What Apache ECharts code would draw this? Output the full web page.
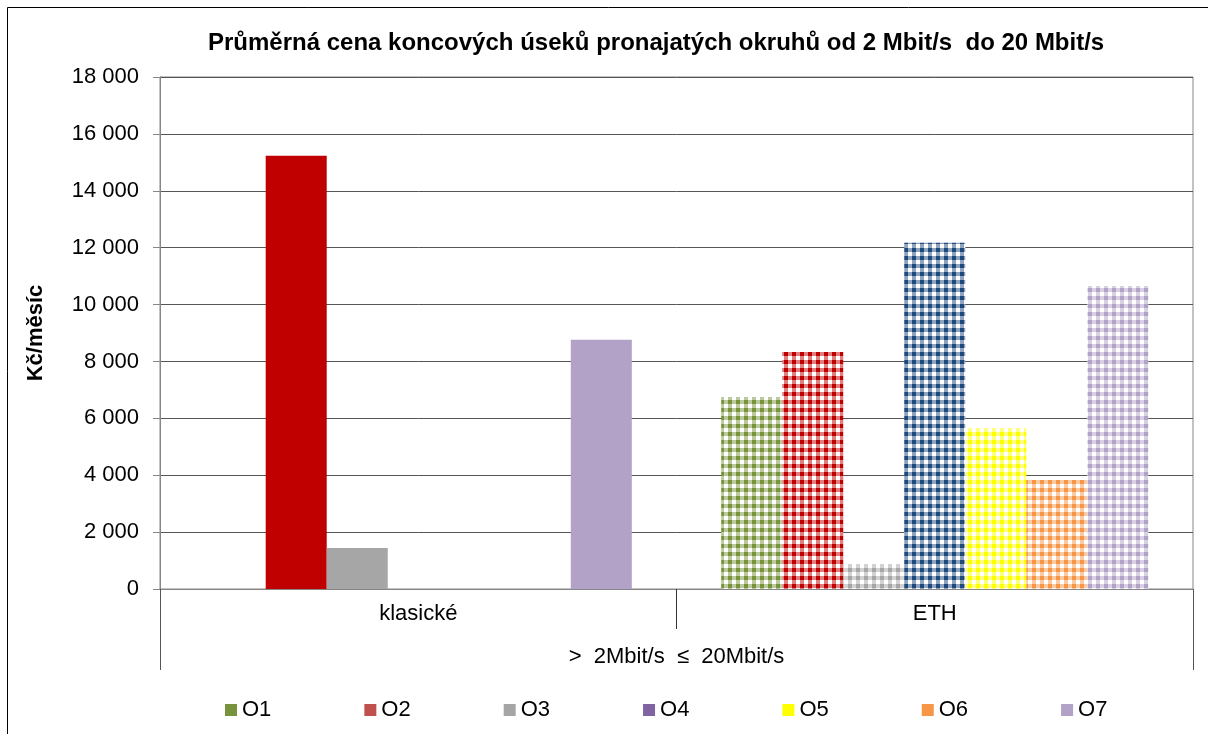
<!DOCTYPE html>
<html>
<head>
<meta charset="utf-8">
<title>Průměrná cena koncových úseků</title>
<script src="https://cdn.jsdelivr.net/npm/echarts@6/dist/echarts.min.js"></script>
<style>
  html, body { margin: 0; padding: 0; background: #fff; }
  #chart { width: 1208px; height: 734px; }
</style>
</head>
<body>
<div id="chart"></div>
<script>
// data
const categories = ['klasické', 'ETH']
const groupLabel = ['>  2Mbit/s  ≤  20Mbit/s']
const operators = ['O1', 'O2', 'O3', 'O4', 'O5', 'O6', 'O7']
const klasicke = [0, 15230, 1440, 0, 0, 0, 8760]
const eth = [6750, 8330, 880, 12170, 5660, 3830, 10650]

// colours
const legendColors = ['#77933C', '#C0504D', '#A5A5A5', '#8064A2', '#FFFF00', '#F79646', '#B3A2C7']
const solidColors = ['#77933C', '#C00000', '#A6A6A6', '#8064A2', '#FFFF00', '#F79646', '#B3A2C7']
const patternColors = ['#77933C', '#C00000', '#A6A6A6', '#1F497D', '#FFFF00', '#F79646', '#B3A2C7']

const FONT = 'Arial, "Liberation Sans", sans-serif'

// gingham-like fill used by the ETH bars
function makePattern(color) {
  const c = document.createElement('canvas')
  c.width = 8
  c.height = 8
  const ctx = c.getContext('2d')
  ctx.fillStyle = '#fff'
  ctx.fillRect(0, 0, 8, 8)
  ctx.globalAlpha = 0.5
  ctx.fillStyle = color
  ctx.fillRect(0, 0, 4, 8)
  ctx.fillRect(4, 0, 4, 4)
  ctx.globalAlpha = 1
  ctx.fillRect(0, 0, 4, 4)
  return { image: c, repeat: 'repeat' }
}

const chart = echarts.init(document.getElementById('chart'))

const series = operators.map((name, i) => ({
  name: name,
  type: 'bar',
  barGap: '0%',
  barCategoryGap: '17.3%',
  itemStyle: { color: legendColors[i] },
  data: [
    { value: klasicke[i], itemStyle: { color: solidColors[i] } },
    { value: eth[i], itemStyle: { color: makePattern(patternColors[i]) } },
  ],
}))

const option = {
  animation: false,
  backgroundColor: '#fff',
  textStyle: { fontFamily: FONT },
  title: {
    text: 'Průměrná cena koncových úseků pronajatých okruhů od 2 Mbit/s  do 20 Mbit/s',
    left: 203,
    top: 26,
    textStyle: { fontFamily: FONT, fontSize: 24, fontWeight: 'bold', color: '#000' },
  },
  legend: {
    data: operators,
    left: 220,
    top: 694,
    itemWidth: 12,
    itemHeight: 12,
    itemGap: 93,
    icon: 'rect',
    textStyle: { fontFamily: FONT, fontSize: 22, color: '#000' },
  },
  grid: {
    left: 160,
    right: 15,
    top: 77,
    bottom: 145,
    show: true,
    borderColor: '#868686',
    borderWidth: 1,
  },
  xAxis: [
    {
      type: 'category',
      data: categories,
      position: 'bottom',
      axisLine: { lineStyle: { color: '#868686', width: 1 } },
      axisTick: { show: true, length: 40, lineStyle: { color: '#333' } },
      axisLabel: { margin: 14, fontFamily: FONT, fontSize: 22, color: '#000' },
    },
    {
      type: 'category',
      data: groupLabel,
      position: 'bottom',
      offset: 0,
      axisLine: { show: false },
      axisTick: { show: true, length: 81, lineStyle: { color: '#555' } },
      axisLabel: { margin: 57, fontFamily: FONT, fontSize: 22, color: '#000' },
    },
  ],
  yAxis: {
    type: 'value',
    min: 0,
    max: 18000,
    interval: 2000,
    name: 'Kč/měsíc',
    nameLocation: 'middle',
    nameRotate: 90,
    nameGap: 113,
    nameTextStyle: { fontFamily: FONT, fontSize: 22, fontWeight: 'bold', color: '#000' },
    axisLine: { show: true, lineStyle: { color: '#868686' } },
    axisTick: { show: true, length: 7, lineStyle: { color: '#868686' } },
    axisLabel: {
      margin: 21,
      fontFamily: FONT,
      fontSize: 22,
      color: '#000',
      formatter: v => String(v).replace(/\B(?=(\d{3})+(?!\d))/g, ' '),
    },
    splitLine: { lineStyle: { color: '#555', width: 1 } },
  },
  graphic: [
    {
      type: 'rect',
      silent: true,
      shape: { x: 7.5, y: 7.5, width: 1220, height: 760 },
      style: { fill: 'none', stroke: '#000', lineWidth: 1 },
    },
  ],
  series: series,
}

chart.setOption(option)
</script>
</body>
</html>
